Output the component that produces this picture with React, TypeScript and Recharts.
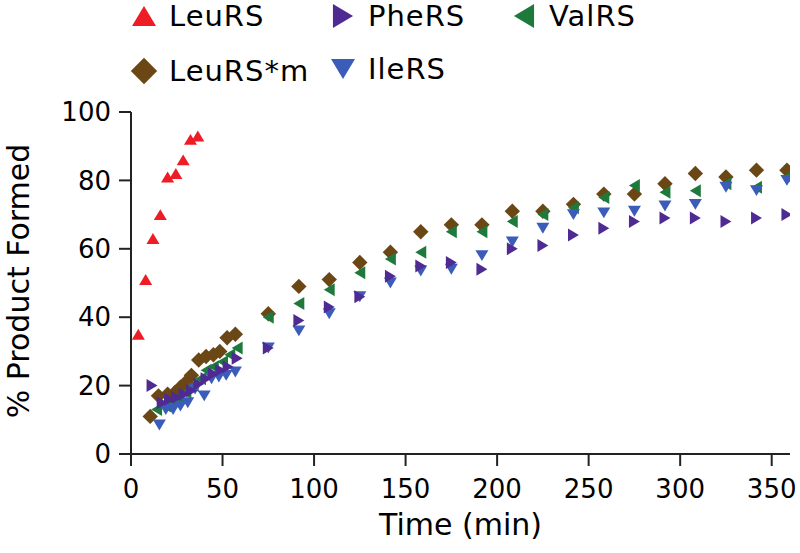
import { ScatterChart, Scatter, XAxis, YAxis, Label } from "recharts";

// time (min) / % product formed
const leuT = [4, 8, 12, 16, 20, 24.5, 28.5, 32.5, 36.5];
const leuY = [35, 51, 63, 70, 81, 82, 86, 92, 93];

const lateT = [75, 91.7, 108.3, 125, 141.7, 158.3, 175, 191.7, 208.3, 225, 241.7, 258.3, 275, 291.7, 308.3, 325, 341.7, 358.3];

const mutT = [10.5, 15, 20, 24, 27, 30, 33, 37, 41, 45, 48.5, 52.5, 57, ...lateT];
const mutY = [11, 17, 17.5, 18, 19.5, 21, 23, 27.5, 28.5, 29, 30, 34, 35,
  41, 49, 51, 56, 59, 65, 67, 67, 71, 71, 73, 76, 76, 79, 82, 81, 83, 83];

const valT = [14, 19, 23, 26, 30, 34, 38, 41, 45, 50, 54, 58, ...lateT];
const valY = [13, 14, 15.5, 16.5, 18, 20, 22, 24.5, 25.5, 27, 29, 31,
  40, 44, 48, 53, 57, 59, 65, 65, 68, 70, 72, 75, 78.5, 76.5, 77, 79, 78, 81];

const ileT = [15.5, 19, 23, 27, 31, 35, 40, 44, 48, 52, 57, ...lateT];
const ileY = [8.5, 13, 13, 14, 15, 19, 17, 22, 22.5, 23, 24,
  31, 36, 41, 46, 50, 53.5, 54, 58, 62, 66, 70, 70.5, 71, 72.5, 73, 78, 77, 80];

const pheT = [11.5, 17, 21, 25, 29, 33, 37, 41, 45, 49, 53, 58, ...lateT];
const pheY = [20, 15, 16, 16.5, 17.5, 18.5, 20.5, 22, 23.5, 24.5, 25.5, 28,
  31, 39, 43, 46, 52, 55, 56, 54, 60, 61, 64, 66, 68, 69, 69, 68, 69, 70];

const xTicks = [0, 50, 100, 150, 200, 250, 300, 350];
const yTicks = [0, 20, 40, 60, 80, 100];

const RED = "#ee1c25";
const PURPLE = "#4e2a92";
const GREEN = "#1e7a3c";
const BROWN = "#6b4716";
const BLUE = "#3b5cb8";

const zip = (t: number[], y: number[]) => t.map((x, i) => ({ t: x, y: y[i] }));

type Dir = "up" | "down" | "left" | "right" | "diamond";

const shapePoints = (dir: Dir, cx: number, cy: number, s: number) => {
  const w = s * 0.5; // half base
  const h = s * 0.42; // half height
  switch (dir) {
    case "up":
      return `${cx - w},${cy + h} ${cx + w},${cy + h} ${cx},${cy - h}`;
    case "down":
      return `${cx - w},${cy - h} ${cx + w},${cy - h} ${cx},${cy + h}`;
    case "right":
      return `${cx - h},${cy - w} ${cx - h},${cy + w} ${cx + h},${cy}`;
    case "left":
      return `${cx + h},${cy - w} ${cx + h},${cy + w} ${cx - h},${cy}`;
    default: {
      const d = s * 0.55;
      return `${cx},${cy - d} ${cx + d},${cy} ${cx},${cy + d} ${cx - d},${cy}`;
    }
  }
};

const makeShape = (dir: Dir, color: string, s = 14) => (props: any) => {
  const { cx, cy } = props;
  if (cx == null || cy == null) return <g />;
  return <polygon points={shapePoints(dir, cx, cy, s)} fill={color} />;
};

const legendItems = [
  { name: "LeuRS", dir: "up" as Dir, color: RED, x: 144, y: 16 },
  { name: "PheRS", dir: "right" as Dir, color: PURPLE, x: 343, y: 16 },
  { name: "ValRS", dir: "left" as Dir, color: GREEN, x: 524, y: 16 },
  { name: "LeuRS*m", dir: "diamond" as Dir, color: BROWN, x: 144, y: 71 },
  { name: "IleRS", dir: "down" as Dir, color: BLUE, x: 343, y: 69 },
];

const FONT = "'DejaVu Sans', Verdana, sans-serif";

export default function App() {
  return (
    <div style={{ position: "absolute", left: 0, top: 0, width: 800, height: 553, background: "#fff" }}>
      <ScatterChart width={800} height={553} margin={{ top: 112, right: 10, bottom: 0, left: 0 }}>
        <XAxis
          type="number"
          dataKey="t"
          domain={[0, 360]}
          ticks={xTicks}
          allowDataOverflow
          height={99}
          tickSize={12}
          tickMargin={14}
          stroke="#222"
          strokeWidth={2}
          tick={{ fill: "#000", fontSize: 26, fontFamily: FONT }}
        >
          <Label value="Time (min)" position="insideBottom" offset={18} fill="#000" fontSize={30} fontFamily={FONT} />
        </XAxis>
        <YAxis
          type="number"
          dataKey="y"
          domain={[0, 100]}
          ticks={yTicks}
          width={131}
          tickSize={12}
          tickMargin={8}
          stroke="#222"
          strokeWidth={2}
          tick={{ fill: "#000", fontSize: 26, fontFamily: FONT }}
        />
        <Scatter data={zip(mutT, mutY)} shape={makeShape("diamond", BROWN, 14)} isAnimationActive={false} />
        <Scatter data={zip(valT, valY)} shape={makeShape("left", GREEN, 13)} isAnimationActive={false} />
        <Scatter data={zip(ileT, ileY)} shape={makeShape("down", BLUE, 13)} isAnimationActive={false} />
        <Scatter data={zip(pheT, pheY)} shape={makeShape("right", PURPLE, 13)} isAnimationActive={false} />
        <Scatter data={zip(leuT, leuY)} shape={makeShape("up", RED, 13)} isAnimationActive={false} />
      </ScatterChart>
      <svg width={800} height={553} style={{ position: "absolute", left: 0, top: 0, pointerEvents: "none" }}>
        {legendItems.map((it) => (
          <g key={it.name}>
            <polygon points={shapePoints(it.dir, it.x, it.y, 24)} fill={it.color} />
            <text x={it.x + 25} y={it.y + 10} fontSize={29} letterSpacing={1} fontFamily={FONT} fill="#000">
              {it.name}
            </text>
          </g>
        ))}
        <text
          x={29}
          y={281}
          transform="rotate(-90 29 281)"
          textAnchor="middle"
          fontSize={30}
          fontFamily={FONT}
          fill="#000"
        >
          % Product Formed
        </text>
      </svg>
    </div>
  );
}
